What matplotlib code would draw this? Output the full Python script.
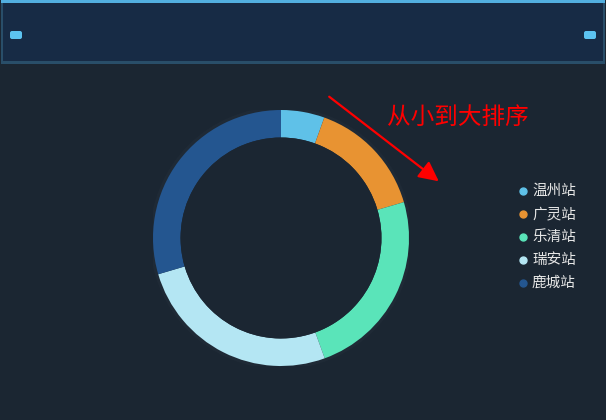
import matplotlib.pyplot as plt
from matplotlib.patches import Rectangle, FancyBboxPatch, Circle

plt.rcParams['font.family'] = ['Noto Sans CJK SC', 'DejaVu Sans']

# 数据
stations = ['温州站', '广灵站', '乐清站', '瑞安站', '鹿城站']
values = [55, 150, 240, 260, 296]
colors = ['#5fc1e8', '#e89332', '#5ae4b9', '#b4e6f3', '#245690']

W, H = 606, 420
bg = '#1b2632'

fig = plt.figure(figsize=(W / 100, H / 100), dpi=100)
fig.patch.set_facecolor(bg)

# 背景层，像素坐标
base = fig.add_axes([0, 0, 1, 1])
base.set_xlim(0, W)
base.set_ylim(H, 0)
base.axis('off')

# 顶部标题框
base.add_patch(Rectangle((1, 0), W - 2, 64, facecolor='#3b7fae', edgecolor='none', alpha=0.45))
base.add_patch(Rectangle((3, 3), W - 6, 58, facecolor='#172b45', edgecolor='none'))
base.add_patch(Rectangle((1, 0), W - 2, 3, facecolor='#52afe0', edgecolor='none'))
for x0 in (10, W - 22):
    base.add_patch(FancyBboxPatch((x0, 31), 12, 8, boxstyle='round,pad=0,rounding_size=2',
                                  facecolor='#5cc3f0', edgecolor='none'))

# 箭头和说明文字
base.annotate('', xy=(441, 183), xytext=(327, 95),
              arrowprops=dict(arrowstyle='-|>,head_length=1.2,head_width=0.6',
                              color='#ff0000', lw=1.6))
base.text(387, 117, '从小到大排序', color='#ff0000', fontsize=17, va='center', ha='left')

# 图例
for i, (name, c) in enumerate(zip(stations, colors)):
    y = 191 + i * 23
    base.plot(523, y, 'o', color=c, markersize=5)
    base.text(532, y, name, color='#e6e6e6', fontsize=10.5, va='center', ha='left')

# 环形图
cx, cy, r = 281, 238, 128
pie_ax = fig.add_axes([(cx - r) / W, (H - cy - r) / H, 2 * r / W, 2 * r / H])
pie_ax.set_facecolor('none')
pie_ax.add_patch(Circle((0, 0), 1.025, facecolor='#1f2a36', edgecolor='none'))
pie_ax.pie(values, colors=colors, startangle=90, counterclock=False, radius=1.0,
           wedgeprops=dict(width=0.215, edgecolor='none'))
pie_ax.add_patch(Circle((0, 0), 0.785, facecolor=bg, edgecolor='none'))
pie_ax.set_xlim(-1, 1)
pie_ax.set_ylim(-1, 1)
pie_ax.axis('off')

fig.savefig('out.png', dpi=100, facecolor=bg)
